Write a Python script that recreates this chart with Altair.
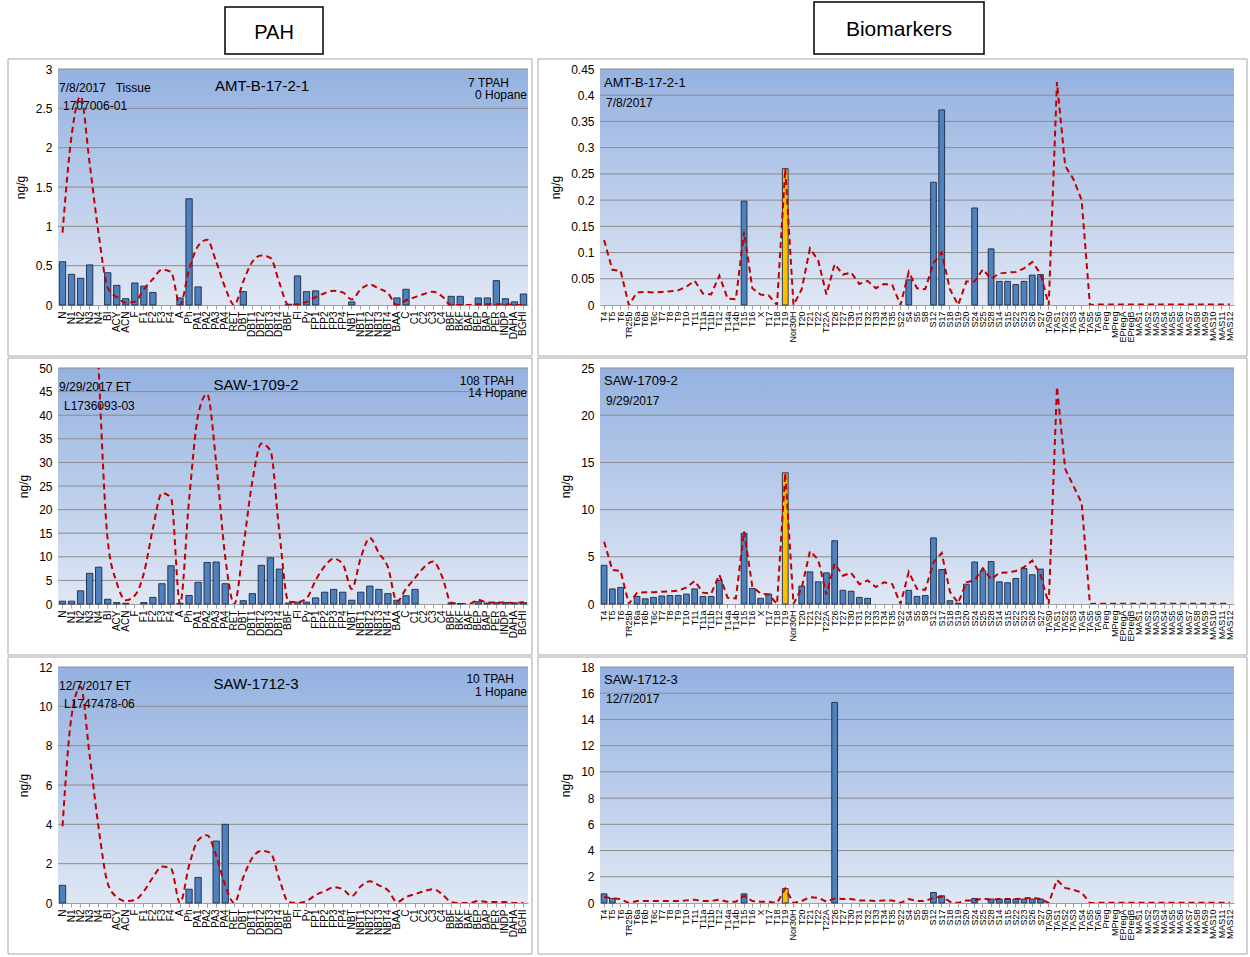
import json
import altair as alt
import pandas as pd

# ---------------------------------------------------------------- categories
PAH_LABELS = ["N", "N1", "N2", "N3", "N4", "BI", "ACY", "ACN", "F", "F1", "F2", "F3", "F4",
              "A", "Ph", "PA1", "PA2", "PA3", "PA4", "RET", "DBT", "DBT1", "DBT2", "DBT3",
              "DBT4", "BBF", "Fl", "Py", "FP1", "FP2", "FP3", "FP4", "NBT", "NBT1", "NBT2",
              "NBT3", "NBT4", "BAA", "C", "C1", "C2", "C3", "C4", "BBF", "BKF", "BAF", "BEP",
              "BAP", "PER", "INDP", "DAHA", "BGHI"]

BIO_LABELS = ["T4", "T5", "T6", "TR25b", "T6a", "T6b", "T6c", "T7", "T8", "T9", "T10", "T11",
              "T11a", "T11b", "T12", "T14a", "T14b", "T15", "T16", "X", "T17", "T18", "T19",
              "Nor30H", "T20", "T21", "T22", "T22A", "T26", "T27", "T30", "T31", "T32", "T33",
              "T34", "T35", "S22", "S4", "S5", "S8", "S12", "S17", "S18", "S19", "S20", "S24",
              "S25", "S28", "S14", "S15", "S22", "S23", "S26", "S27", "TAS0", "TAS1", "TAS2",
              "TAS3", "TAS4", "TAS5", "TAS6", "Preg", "MPreg", "EPregA", "EPregB", "MAS1",
              "MAS2", "MAS3", "MAS4", "MAS5", "MAS6", "MAS7", "MAS8", "MAS9", "MAS10", "MAS11",
              "MAS12"]

# ---------------------------------------------------------------- PAH, ng/g
PAH_AMT_BARS = [0.55, 0.39, 0.34, 0.51, 0, 0.41, 0.25, 0.08, 0.28, 0.24, 0.16, 0, 0,
                0.09, 1.35, 0.23, 0, 0, 0, 0, 0.17, 0, 0, 0, 0, 0.01, 0.37, 0.17, 0.18, 0,
                0, 0, 0.04, 0, 0, 0, 0, 0.09, 0.20, 0, 0, 0, 0, 0.11, 0.11, 0, 0.09, 0.09,
                0.31, 0.08, 0.04, 0.14]
PAH_AMT_LINE = [0.92, 2.15, 2.65, 1.8, 0.9, 0.22, 0.1, 0.03, 0.04, 0.2, 0.33, 0.45, 0.42,
                0.0, 0.45, 0.75, 0.83, 0.55, 0.22, 0.0, 0.3, 0.55, 0.63, 0.6, 0.28, 0.0,
                0.01, 0.04, 0.1, 0.15, 0.18, 0.16, 0.07, 0.2, 0.26, 0.21, 0.15, 0.0, 0.06,
                0.1, 0.14, 0.17, 0.11, 0.0, 0.0, 0.0, 0.01, 0.01, 0.01, 0.01, 0.0, 0.0]

PAH_SAW2_BARS = [0.6, 0.6, 2.8, 6.5, 7.8, 1.0, 0.3, 0.15, 0, 0.3, 1.4, 4.3, 8.1, 0.15, 1.8,
                 4.6, 8.8, 8.9, 4.3, 0, 0.7, 2.2, 8.2, 9.8, 7.4, 0.2, 0.4, 0.4, 1.3, 2.5,
                 3.1, 2.5, 0.8, 2.5, 3.8, 3.1, 2.2, 0.8, 1.75, 3.1, 0, 0, 0, 0.25, 0.1, 0,
                 0.5, 0.2, 0.3, 0.3, 0.25, 0.3]
PAH_SAW2_LINE = [62, 120, 140, 100, 50, 13.5, 4.5, 0.8, 1.8, 6.5, 16, 23.5, 22.5, 0.0, 22,
                 40, 44.5, 30, 10, 0.0, 12, 26, 34, 32.5, 15, 0.5, 0.4, 1.2, 5, 8, 9.6, 8.5,
                 3.2, 9.8, 14, 10.8, 7.8, 0.5, 3.2, 5.5, 7.8, 9.0, 5.8, 0.3, 0.0, 0.0, 0.9,
                 0.3, 0.3, 0.3, 0.2, 0.4]

PAH_SAW3_BARS = [0.9, 0, 0, 0, 0, 0, 0, 0, 0, 0, 0, 0, 0, 0, 0.7, 1.3, 0, 3.15, 4.0, 0, 0,
                 0, 0, 0, 0, 0, 0, 0, 0, 0, 0, 0, 0, 0, 0, 0, 0, 0, 0, 0, 0, 0, 0, 0, 0, 0,
                 0, 0, 0, 0, 0, 0]
PAH_SAW3_LINE = [3.9, 9.5, 11.0, 7.5, 3.8, 1.0, 0.3, 0.1, 0.15, 0.6, 1.3, 1.85, 1.75, 0.0,
                 1.9, 3.2, 3.45, 2.4, 0.9, 0.0, 1.3, 2.3, 2.65, 2.55, 1.2, 0.05, 0.0, 0.1,
                 0.4, 0.6, 0.8, 0.7, 0.35, 0.85, 1.1, 0.9, 0.65, 0.05, 0.3, 0.45, 0.6, 0.7,
                 0.45, 0.05, 0.0, 0.0, 0.1, 0.05, 0.05, 0.05, 0.0, 0.0]

# ---------------------------------------------------------------- biomarkers, ng/g
BIO_AMT_BARS = [0, 0, 0, 0, 0, 0, 0, 0, 0, 0, 0, 0, 0, 0, 0, 0, 0, 0.198, 0, 0, 0, 0,
                0.26, 0, 0, 0, 0, 0, 0, 0, 0, 0, 0, 0, 0, 0, 0, 0.048, 0, 0, 0.234, 0.372,
                0, 0, 0, 0.185, 0, 0.107, 0.045, 0.045, 0.039, 0.045, 0.057, 0.058, 0, 0,
                0, 0, 0, 0, 0, 0, 0, 0, 0, 0, 0, 0, 0, 0, 0, 0, 0, 0, 0, 0, 0]
BIO_AMT_LINE = [0.124, 0.067, 0.065, 0.0, 0.024, 0.025, 0.024, 0.025, 0.026, 0.028, 0.035,
                0.046, 0.022, 0.02, 0.056, 0.012, 0.011, 0.14, 0.032, 0.02, 0.018, 0.0,
                0.26, 0.0, 0.03, 0.108, 0.085, 0.02, 0.078, 0.058, 0.062, 0.04, 0.046,
                0.032, 0.04, 0.038, 0.0, 0.063, 0.032, 0.03, 0.08, 0.1, 0.03, 0.0, 0.045,
                0.045, 0.068, 0.05, 0.06, 0.062, 0.063, 0.07, 0.082, 0.06, 0.0, 0.425,
                0.265, 0.24, 0.2, 0.0, 0.001, 0.001, 0.001, 0.001, 0.001, 0.001, 0.001,
                0.001, 0.001, 0.001, 0.001, 0.001, 0.001, 0.001, 0.001, 0.001, 0.001]

BIO_SAW2_BARS = [4.1, 1.6, 1.75, 0, 0.8, 0.55, 0.7, 0.85, 0.9, 0.9, 1.05, 1.6, 0.8, 0.8,
                 2.5, 0, 0, 7.5, 1.65, 0.6, 1.05, 0, 13.9, 0, 1.9, 3.4, 2.35, 3.3, 6.7,
                 1.45, 1.35, 0.7, 0.6, 0, 0, 0, 0, 1.45, 0.8, 0.9, 7.0, 3.65, 0.35, 0.1,
                 2.1, 4.45, 3.5, 4.5, 2.35, 2.25, 2.7, 3.75, 3.1, 3.7, 0, 0, 0, 0, 0, 0, 0,
                 0, 0, 0, 0, 0, 0, 0, 0, 0, 0, 0, 0, 0, 0, 0, 0]
BIO_SAW2_LINE = [6.6, 3.6, 3.5, 0.0, 1.2, 1.25, 1.25, 1.3, 1.35, 1.4, 1.75, 2.45, 1.2, 1.1,
                 3.1, 0.65, 0.6, 7.7, 1.85, 1.1, 1.0, 0.0, 13.9, 0.0, 1.7, 5.6, 4.7, 1.0,
                 4.3, 3.0, 3.3, 2.1, 2.5, 1.8, 2.3, 2.1, 0.0, 3.4, 1.6, 1.5, 4.4, 5.4, 1.3,
                 0.1, 2.3, 2.5, 3.8, 2.6, 3.3, 3.35, 3.5, 3.9, 4.6, 3.1, 0.0, 23.0, 14.3,
                 12.5, 10.7, 0.0, 0.02, 0.02, 0.02, 0.02, 0.02, 0.02, 0.02, 0.02, 0.02,
                 0.02, 0.02, 0.02, 0.02, 0.02, 0.02, 0.02, 0.02]

BIO_SAW3_BARS = [0.7, 0.35, 0, 0, 0, 0, 0, 0, 0, 0, 0, 0, 0, 0, 0, 0, 0, 0.7, 0, 0, 0, 0,
                 1.1, 0, 0, 0, 0, 0, 15.3, 0, 0, 0, 0, 0, 0, 0, 0, 0, 0, 0, 0.8, 0.55, 0,
                 0, 0, 0.35, 0, 0.3, 0.3, 0.3, 0.3, 0.3, 0.3, 0.3, 0, 0, 0, 0, 0, 0, 0, 0,
                 0, 0, 0, 0, 0, 0, 0, 0, 0, 0, 0, 0, 0, 0, 0]
BIO_SAW3_LINE = [0.45, 0.35, 0.3, 0.0, 0.15, 0.15, 0.15, 0.15, 0.15, 0.15, 0.2, 0.25, 0.15,
                 0.15, 0.25, 0.1, 0.1, 0.55, 0.15, 0.1, 0.1, 0.0, 1.1, 0.0, 0.15, 0.45,
                 0.4, 0.1, 0.35, 0.3, 0.3, 0.2, 0.2, 0.15, 0.2, 0.2, 0.0, 0.3, 0.15, 0.15,
                 0.4, 0.5, 0.1, 0.0, 0.2, 0.2, 0.35, 0.25, 0.3, 0.3, 0.3, 0.35, 0.4, 0.3,
                 0.0, 1.75, 1.15, 1.0, 0.8, 0.0, 0.01, 0.01, 0.01, 0.01, 0.01, 0.01, 0.01,
                 0.01, 0.01, 0.01, 0.01, 0.01, 0.01, 0.01, 0.01, 0.01, 0.01]

# ---------------------------------------------------------------- y-axis ticks
PAH_AMT_TICKS = [0, 0.5, 1, 1.5, 2, 2.5, 3]
PAH_SAW2_TICKS = [0, 5, 10, 15, 20, 25, 30, 35, 40, 45, 50]
PAH_SAW3_TICKS = [0, 2, 4, 6, 8, 10, 12]
BIO_AMT_TICKS = [0, 0.05, 0.1, 0.15, 0.2, 0.25, 0.3, 0.35, 0.4, 0.45]
BIO_SAW2_TICKS = [0, 5, 10, 15, 20, 25]
BIO_SAW3_TICKS = [0, 2, 4, 6, 8, 10, 12, 14, 16, 18]

# ---------------------------------------------------------------- styling
FONT = "Liberation Sans"
BAR_FILL = "#4f81bd"
BAR_EDGE = "#1b2a45"
HIGHLIGHT = "#ffc000"
LINE_RED = "#c00000"
GRID = "#8c8c8c"
FRAME = "#a6a6a6"
PLOT_BG = alt.LinearGradient(
    gradient="linear", x1=0, y1=0, x2=0, y2=1,
    stops=[alt.GradientStop(offset=0, color="#94b1e0"),
           alt.GradientStop(offset=1, color="#dfe7f4")])

PAH_W, BIO_W, PLOT_H = 470, 634, 236


def one_row():
    return pd.DataFrame({"k": [0]})


def text_layer(items):
    layers = []
    for x, y, txt, align, size in items:
        layers.append(
            alt.Chart(one_row()).mark_text(
                font=FONT, fontSize=size, align=align, baseline="middle", color="#000000"
            ).encode(x=alt.value(x), y=alt.value(y), text=alt.value(txt))
        )
    return layers


def panel(labels, bars, line, ticks, width, label_size, interp, texts,
          frame_left, frame_right, highlight=None, top_extra=None):
    df = pd.DataFrame({"idx": list(range(len(labels))), "label": labels,
                       "bar": bars, "line": line})
    ymax = ticks[-1]
    yscale = alt.Scale(domain=[0, ymax], nice=False, zero=True)
    yaxis = alt.Axis(values=ticks, format="~g", grid=False, ticks=False,
                     domainColor="#b0b0b0", labelFont=FONT, labelFontSize=12,
                     labelColor="#000000", labelPadding=6, title="ng/g",
                     titleFont=FONT, titleFontSize=12, titleFontWeight="normal",
                     titleColor="#000000", titlePadding=8)
    xaxis = alt.Axis(labelExpr=json.dumps(labels) + "[datum.value]", labelAngle=270,
                     labelOverlap=False, labelFont=FONT, labelFontSize=label_size,
                     labelColor="#000000", labelPadding=2, tickSize=4,
                     tickColor="#a0a0a0", domainColor="#a0a0a0", title=None)
    xenc = alt.X("idx:O", scale=alt.Scale(paddingInner=0.3, paddingOuter=0.15),
                 axis=xaxis)

    background = alt.Chart(one_row()).mark_rect(fill=PLOT_BG).encode(
        x=alt.value(0), x2=alt.value(width), y=alt.value(0), y2=alt.value(PLOT_H))

    grid = alt.Chart(pd.DataFrame({"tick": ticks[1:]})).mark_rule(
        color=GRID, strokeWidth=1).encode(
        y=alt.Y("tick:Q", scale=yscale, axis=yaxis))

    if highlight is not None:
        bar_color = alt.condition(f"datum.label == '{highlight}'",
                                  alt.value(HIGHLIGHT), alt.value(BAR_FILL))
    else:
        bar_color = alt.value(BAR_FILL)

    base = alt.Chart(df)
    bar_layer = base.transform_filter("datum.bar > 0").mark_bar(
        stroke=BAR_EDGE, strokeWidth=0.9).encode(
        x=xenc, y=alt.Y("bar:Q", scale=yscale, axis=yaxis), fill=bar_color)

    line_layer = base.mark_line(
        color=LINE_RED, strokeWidth=2, strokeDash=[6, 4], interpolate=interp,
        clip=True).encode(x=xenc, y=alt.Y("line:Q", scale=yscale, axis=yaxis))

    frame = alt.Chart(one_row()).mark_rect(
        fill="transparent", stroke=FRAME, strokeWidth=1).encode(
        x=alt.value(frame_left), x2=alt.value(width + frame_right),
        y=alt.value(-10), y2=alt.value(PLOT_H + 51))

    layers = [background, grid, bar_layer, line_layer] + text_layer(texts) + [frame]
    if top_extra:
        layers += top_extra
    return alt.layer(*layers).properties(width=width, height=PLOT_H)


def title_box(x0, x1, text, size):
    box = alt.Chart(one_row()).mark_rect(
        fill="#ffffff", stroke="#000000", strokeWidth=1.5).encode(
        x=alt.value(x0), x2=alt.value(x1), y=alt.value(-67 if size > 20 else -62),
        y2=alt.value(-15))
    label = alt.Chart(one_row()).mark_text(
        font=FONT, fontSize=size, align="center", baseline="middle",
        color="#000000").encode(
        x=alt.value((x0 + x1) / 2), y=alt.value(-39 if size > 20 else -36),
        text=alt.value(text))
    spacer = alt.Chart(one_row()).mark_rect(fill="transparent").encode(
        x=alt.value(x0), x2=alt.value(x1), y=alt.value(-67), y2=alt.value(-66))
    return [spacer, box, label]


NB = "\u00a0"

pah1 = panel(PAH_LABELS, PAH_AMT_BARS, PAH_AMT_LINE, PAH_AMT_TICKS, PAH_W, 10, "monotone",
             [(1, 19, f"7/8/2017{NB}{NB}{NB}Tissue", "left", 12),
              (5, 37, "1707006-01", "left", 12),
              (204, 17, "AMT-B-17-2-1", "center", 15),
              (451, 14, "7 TPAH", "right", 12),
              (469, 26, "0 Hopane", "right", 12)],
             -50, 4, top_extra=title_box(167, 265, "PAH", 20))

pah2 = panel(PAH_LABELS, PAH_SAW2_BARS, PAH_SAW2_LINE, PAH_SAW2_TICKS, PAH_W, 10,
             "monotone",
             [(1, 19, "9/29/2017 ET", "left", 12),
              (6, 38, "L1736093-03", "left", 12),
              (198, 17, "SAW-1709-2", "center", 15),
              (456, 13, "108 TPAH", "right", 12),
              (469, 25, "14 Hopane", "right", 12)],
             -50, 4)

pah3 = panel(PAH_LABELS, PAH_SAW3_BARS, PAH_SAW3_LINE, PAH_SAW3_TICKS, PAH_W, 10,
             "monotone",
             [(1, 19, "12/7/2017 ET", "left", 12),
              (6, 37, "L1747478-06", "left", 12),
              (198, 17, "SAW-1712-3", "center", 15),
              (456, 12, "10 TPAH", "right", 12),
              (469, 25, "1 Hopane", "right", 12)],
             -50, 4)

bio1 = panel(BIO_LABELS, BIO_AMT_BARS, BIO_AMT_LINE, BIO_AMT_TICKS, BIO_W, 9, "linear",
             [(4, 14, "AMT-B-17-2-1", "left", 13),
              (6, 34, "7/8/2017", "left", 12)],
             -62, 13, highlight="T19", top_extra=title_box(214, 384, "Biomarkers", 21))

bio2 = panel(BIO_LABELS, BIO_SAW2_BARS, BIO_SAW2_LINE, BIO_SAW2_TICKS, BIO_W, 9, "linear",
             [(4, 13, "SAW-1709-2", "left", 13),
              (6, 33, "9/29/2017", "left", 12)],
             -62, 13, highlight="T19")

bio3 = panel(BIO_LABELS, BIO_SAW3_BARS, BIO_SAW3_LINE, BIO_SAW3_TICKS, BIO_W, 9, "linear",
             [(4, 13, "SAW-1712-3", "left", 13),
              (6, 32, "12/7/2017", "left", 12)],
             -62, 13, highlight="T19")

chart = alt.concat(
    pah1, bio1, pah2, bio2, pah3, bio3,
    columns=2, spacing={"row": 0, "column": 4}, align="each",
).properties(
    padding={"left": 7, "top": 1, "right": 0, "bottom": 0},
    background="#ffffff",
).configure_view(stroke=None)

chart.save("out.html", embed_options={"renderer": "svg", "actions": False})
